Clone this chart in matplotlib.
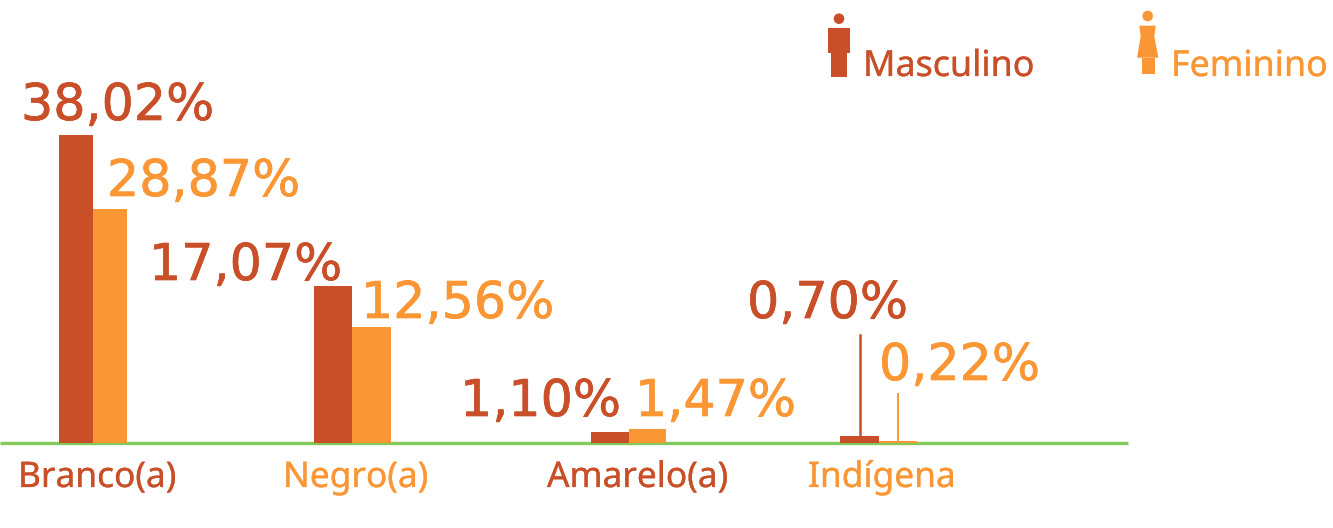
import matplotlib
matplotlib.use("Agg")
import matplotlib.pyplot as plt
import matplotlib.patheffects as pe
from matplotlib.patches import Circle, Polygon, Rectangle

plt.rcParams['font.family'] = ['Noto Sans', 'DejaVu Sans']

DARK = "#c94f29"
LIGHT = "#fb9635"
GREEN = "#84c95c"

categories = ["Branco(a)", "Negro(a)", "Amarelo(a)", "Indígena"]
cat_colors = [DARK, LIGHT, DARK, LIGHT]
masculino = ["38,02%", "17,07%", "1,10%", "0,70%"]
feminino = ["28,87%", "12,56%", "1,47%", "0,22%"]

# heights as drawn in the picture (the groups are not on one scale there)
masc_height = [308, 157, 11, 7]
fem_height = [234, 116, 14, 2]

masc_left = [59, 314, 591, 840]
masc_width = [34, 38, 38, 39]
fem_left = [93, 352, 629, 879]
fem_width = [34, 39, 37, 38]

# text anchors, pixels from top left
masc_pos = [(21, 120), (149, 280), (460, 416), (747, 318)]
fem_pos = [(107, 196), (361, 318), (635, 416), (879, 380)]
cat_pos = [(18, 487), (283, 487), (547, 487), (808, 487)]

W, H = 1333, 528
BASE = 443

fig = plt.figure(figsize=(W / 100, H / 100), dpi=100)
ax = fig.add_axes([0, 0, 1, 1])
ax.set_xlim(0, W)
ax.set_ylim(BASE - H, BASE)
ax.axis("off")

# overlay in pixels for the texts and icons
ov = fig.add_axes([0, 0, 1, 1])
ov.set_xlim(0, W)
ov.set_ylim(H, 0)
ov.axis("off")
ov.patch.set_alpha(0)

ax.plot([0, 1128], [0, 0], color=GREEN, lw=2.4, solid_capstyle="butt", zorder=1)
ax.bar(masc_left, masc_height, width=masc_width, align="edge", color=DARK, zorder=2)
ax.bar(fem_left, fem_height, width=fem_width, align="edge", color=LIGHT, zorder=2)


def label(x, y, s, c, size, font=None, stroke=0.2):
    # slight stroke, the original typeface is heavier than the installed ones
    t = ov.text(x, y, s, color=c, fontsize=size, family=font or ['Noto Sans'],
                va="baseline", ha="left")
    t.set_path_effects([pe.withStroke(linewidth=stroke, foreground=c)])


VAL_SIZE = 36.5
VAL_FONT = ['DejaVu Sans']
for s, (x, y) in zip(masculino, masc_pos):
    label(x, y, s, DARK, VAL_SIZE, VAL_FONT, 0.5)
for s, (x, y) in zip(feminino, fem_pos):
    label(x, y, s, LIGHT, VAL_SIZE, VAL_FONT, 0.5)
for s, c, (x, y) in zip(categories, cat_colors, cat_pos):
    label(x, y, s, c, 25.4)

# leader lines for the two small indigena bars
ov.plot([859.5, 859.5], [335, 437], color=DARK, lw=1.8)
ov.plot([897.5, 897.5], [394, 441], color=LIGHT, lw=1.4)

# legend, male icon
ov.add_patch(Circle((839, 18.7), 5.3, color=DARK, lw=0))
ov.add_patch(Rectangle((828.3, 28), 21.4, 25, color=DARK, lw=0))
ov.add_patch(Rectangle((831, 53), 16.3, 24, color=DARK, lw=0))
label(863, 76, "Masculino", DARK, 25.8)

# legend, female icon
ov.add_patch(Circle((1147.7, 16), 5.3, color=LIGHT, lw=0))
ov.add_patch(Polygon([(1139.3, 25.7), (1155.7, 25.7), (1154.3, 36), (1158.3, 57.7),
                      (1137, 57.7), (1140.7, 36)], closed=True, color=LIGHT, lw=0))
ov.add_patch(Rectangle((1142.3, 57.7), 12.3, 16.8, color=LIGHT, lw=0))
label(1171, 76, "Feminino", LIGHT, 25.8)

fig.savefig("out.png", dpi=100)
